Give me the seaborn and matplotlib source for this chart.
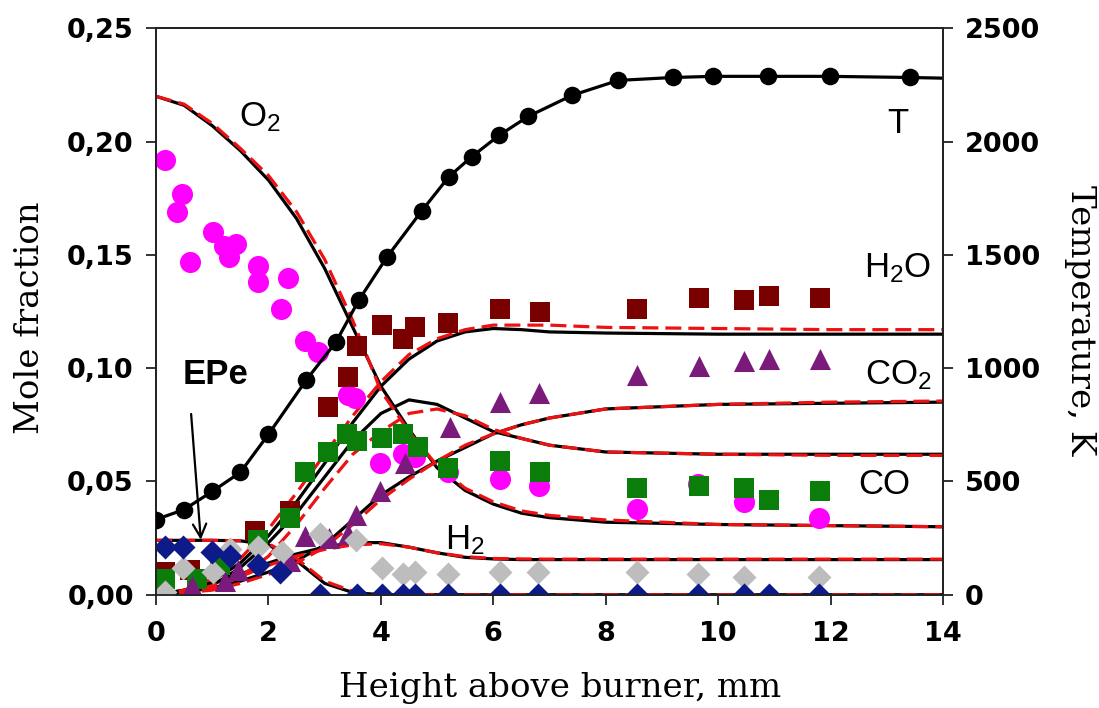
import numpy as np
import pandas as pd
import matplotlib
matplotlib.use("Agg")
import matplotlib.pyplot as plt
import seaborn as sns

# ---------------- data ----------------
# Temperature (right axis), measured points
T_x = [0.0, 0.5, 1.0, 1.5, 2.0, 2.67, 3.2, 3.61, 4.11, 4.73, 5.21, 5.62, 6.10, 6.62,
       7.40, 8.22, 9.20, 9.91, 10.89, 11.99, 13.42]
T_val = [332, 376, 456, 540, 708, 947, 1115, 1301, 1491, 1695, 1845, 1934, 2027, 2111,
         2204, 2270, 2283, 2288, 2288, 2288, 2283]
# Temperature profile line
T_line_x = T_x + [14.0]
T_line_val = T_val + [2280]

# Experimental mole fractions
O2_x = [0.16, 0.37, 0.46, 0.60, 1.01, 1.21, 1.30, 1.42, 1.81, 1.81, 2.22, 2.35, 2.65, 2.88,
        3.42, 3.54, 3.99, 4.40, 4.60, 5.20, 6.12, 6.81, 8.56, 9.64, 10.46, 11.80]
O2_val = [0.192, 0.169, 0.177, 0.147, 0.160, 0.154, 0.149, 0.155, 0.145, 0.138, 0.126, 0.140,
          0.112, 0.107, 0.088, 0.087, 0.058, 0.062, 0.061, 0.054, 0.051, 0.048, 0.038, 0.049,
          0.041, 0.034]

H2O_x = [0.16, 0.60, 1.76, 2.38, 3.06, 3.42, 3.58, 4.02, 4.39, 4.61, 5.20, 6.12, 6.83, 8.56,
         9.66, 10.46, 10.91, 11.81]
H2O_val = [0.010, 0.011, 0.028, 0.037, 0.083, 0.096, 0.110, 0.119, 0.113, 0.118, 0.120, 0.126,
           0.125, 0.126, 0.131, 0.130, 0.132, 0.131]

CO_x = [0.16, 0.73, 1.14, 1.82, 2.38, 2.65, 3.06, 3.40, 3.58, 4.02, 4.40, 4.66, 5.20, 6.12,
        6.83, 8.56, 9.66, 10.46, 10.91, 11.81]
CO_val = [0.007, 0.007, 0.013, 0.024, 0.034, 0.054, 0.063, 0.071, 0.068, 0.069, 0.071, 0.065,
          0.056, 0.059, 0.054, 0.047, 0.048, 0.047, 0.042, 0.046]

CO2_x = [0.64, 1.23, 1.46, 2.38, 2.65, 3.08, 3.42, 3.56, 3.99, 4.43, 5.23, 6.12, 6.81, 8.56,
         9.66, 10.46, 10.91, 11.81]
CO2_val = [0.004, 0.006, 0.011, 0.015, 0.026, 0.025, 0.027, 0.035, 0.046, 0.058, 0.074, 0.085,
           0.089, 0.097, 0.101, 0.103, 0.104, 0.104]

H2_x = [0.16, 0.48, 1.01, 1.32, 1.82, 2.24, 2.92, 3.56, 4.02, 4.40, 4.61, 5.20, 6.12, 6.80,
        8.56, 9.64, 10.46, 11.80]
H2_val = [0.001, 0.012, 0.010, 0.020, 0.021, 0.019, 0.027, 0.024, 0.012, 0.009, 0.010, 0.009,
          0.010, 0.010, 0.010, 0.009, 0.008, 0.008]

EPe_x = [0.16, 0.48, 1.00, 1.32, 1.82, 2.20, 2.92, 3.58, 4.02, 4.40, 4.61, 5.20, 6.12, 6.80,
         8.56, 9.64, 10.46, 10.91, 11.80]
EPe_val = [0.021, 0.021, 0.019, 0.017, 0.013, 0.010, 0.0, 0.0, 0.0, 0.0, 0.0, 0.0, 0.0, 0.0,
           0.0, 0.0, 0.0, 0.0, 0.0]

# Model profiles (black solid = model 1, red dashed = model 2)
model_x = [0, 0.5, 1.0, 1.5, 2.0, 2.5, 3.0, 3.5, 4.0, 4.5, 5.0, 5.5, 6.0, 6.5, 7.0, 8.0, 10.0, 12.0, 14.0]
O2_black = [0.220, 0.216, 0.207, 0.196, 0.183, 0.166, 0.144, 0.118, 0.092, 0.073, 0.056, 0.046,
            0.040, 0.036, 0.034, 0.032, 0.031, 0.0305, 0.030]
O2_red = [0.220, 0.2165, 0.208, 0.197, 0.185, 0.169, 0.148, 0.121, 0.090, 0.072, 0.057, 0.047,
          0.041, 0.037, 0.035, 0.033, 0.031, 0.0305, 0.030]
H2O_black = [0.000, 0.002, 0.006, 0.014, 0.026, 0.041, 0.058, 0.076, 0.092, 0.104, 0.112, 0.116,
             0.1175, 0.117, 0.116, 0.1155, 0.115, 0.115, 0.115]
H2O_red = [0.000, 0.002, 0.007, 0.016, 0.029, 0.045, 0.062, 0.079, 0.094, 0.106, 0.113, 0.117,
           0.119, 0.119, 0.119, 0.118, 0.1175, 0.117, 0.117]
CO_black = [0.000, 0.001, 0.004, 0.012, 0.023, 0.036, 0.052, 0.068, 0.080, 0.086, 0.084, 0.078,
            0.072, 0.069, 0.066, 0.063, 0.062, 0.062, 0.062]
CO_red = [0.000, 0.001, 0.003, 0.008, 0.017, 0.031, 0.047, 0.062, 0.072, 0.080, 0.082, 0.079,
          0.073, 0.069, 0.066, 0.063, 0.062, 0.0615, 0.0615]
CO2_black = [0.000, 0.001, 0.003, 0.006, 0.010, 0.015, 0.022, 0.033, 0.044, 0.052, 0.059, 0.065,
             0.071, 0.075, 0.078, 0.082, 0.084, 0.0845, 0.085]
CO2_red = [0.000, 0.001, 0.002, 0.005, 0.009, 0.014, 0.021, 0.031, 0.042, 0.051, 0.059, 0.066,
           0.071, 0.075, 0.078, 0.082, 0.084, 0.085, 0.0855]
H2_black = [0.000, 0.002, 0.005, 0.009, 0.014, 0.018, 0.021, 0.023, 0.023, 0.021, 0.0185, 0.0165,
            0.0158, 0.0155, 0.0155, 0.0155, 0.0155, 0.0155, 0.0155]
H2_red = [0.000, 0.001, 0.004, 0.008, 0.013, 0.017, 0.020, 0.022, 0.0225, 0.021, 0.0185, 0.0168,
          0.016, 0.0158, 0.0157, 0.0157, 0.0157, 0.0157, 0.0157]
EPe_black = [0.024, 0.024, 0.024, 0.0238, 0.022, 0.015, 0.005, 0.001, 0.0, 0.0, 0.0, 0.0, 0.0,
             0.0, 0.0, 0.0, 0.0, 0.0, 0.0]
EPe_red = [0.024, 0.024, 0.024, 0.0238, 0.0225, 0.016, 0.006, 0.0015, 0.0, 0.0, 0.0, 0.0, 0.0,
           0.0, 0.0, 0.0, 0.0, 0.0, 0.0]

left_ticks = [0.0, 0.05, 0.10, 0.15, 0.20, 0.25]
left_ticklabels = ["0,00", "0,05", "0,10", "0,15", "0,20", "0,25"]
right_ticks = [0, 500, 1000, 1500, 2000, 2500]
x_ticks = [0, 2, 4, 6, 8, 10, 12, 14]

# ---------------- style ----------------
sns.set_style("ticks")
plt.rcParams['font.family'] = ['Liberation Sans', 'DejaVu Sans']
plt.rcParams['mathtext.default'] = 'regular'
plt.rcParams['text.color'] = 'black'
plt.rcParams['axes.labelcolor'] = 'black'

fig = plt.figure(figsize=(10.99, 7.08), dpi=100)
ax = fig.add_axes([0.142, 0.160, 0.716, 0.800])

# model lines
model_pairs = [(O2_black, O2_red), (H2O_black, H2O_red), (CO_black, CO_red),
               (CO2_black, CO2_red), (H2_black, H2_red), (EPe_black, EPe_red)]
for blk, red in model_pairs:
    sns.lineplot(x=model_x, y=blk, ax=ax, color='black', lw=2.3, estimator=None, zorder=2)
    sns.lineplot(x=model_x, y=red, ax=ax, color='#ee1111', lw=2.3, estimator=None, zorder=2.5,
                 linestyle=(0, (5, 2.2)))

# experimental markers
exp_sets = [
    (O2_x, O2_val, 'o', '#ff00ff', 230),
    (H2O_x, H2O_val, 's', '#7a0000', 210),
    (CO_x, CO_val, 's', '#0a7d0a', 210),
    (CO2_x, CO2_val, '^', '#7a1a7a', 230),
    (H2_x, H2_val, 'D', '#bdbdbd', 150),
    (EPe_x, EPe_val, 'D', '#0c1a8a', 150),
]
for xs, ys, mk, col, sz in exp_sets:
    sns.scatterplot(x=xs, y=ys, ax=ax, marker=mk, color=col, s=sz, linewidth=0, zorder=3)

ax.set_xlim(0, 14)
ax.set_ylim(0, 0.25)
ax.set_xticks(x_ticks)
ax.set_xticklabels([str(t) for t in x_ticks])
ax.set_yticks(left_ticks)
ax.set_yticklabels(left_ticklabels)

# temperature on right axis
ax2 = ax.twinx()
sns.lineplot(x=T_line_x, y=T_line_val, ax=ax2, color='black', lw=2.3, estimator=None, zorder=2)
sns.scatterplot(x=T_x, y=T_val, ax=ax2, marker='o', color='black', s=160, linewidth=0, zorder=3)
ax2.set_ylim(0, 2500)
ax2.set_yticks(right_ticks)
ax2.set_yticklabels([str(t) for t in right_ticks])

for a in (ax, ax2):
    for sp in a.spines.values():
        sp.set_visible(True)
        sp.set_color('#222222')
        sp.set_linewidth(1.3)
    a.tick_params(direction='out', length=7, width=1.3, color='#222222', labelcolor='black')
    for lab in a.get_xticklabels() + a.get_yticklabels():
        lab.set_fontweight('bold')
        lab.set_fontsize(19.5)
        lab.set_family('DejaVu Sans')
ax.tick_params(axis='y', pad=9)
ax.tick_params(axis='x', pad=12)
ax2.tick_params(axis='y', pad=9)

ax.set_xlabel("Height above burner, mm", family='DejaVu Serif', fontsize=24.5)
ax.set_ylabel("Mole fraction", family='DejaVu Serif', fontsize=24.5)
ax2.set_ylabel("Temperature, K", family='DejaVu Serif', fontsize=24.5, rotation=270)
ax.xaxis.set_label_coords(0.513, -0.164)
ax.yaxis.set_label_coords(-0.160, 0.489)
ax2.yaxis.set_label_coords(1.174, 0.485)
ax.xaxis.label.set_va('center')
ax.yaxis.label.set_va('center')
ax2.yaxis.label.set_va('center')

# species labels
lab_kw = dict(fontsize=25, color='black', ha='center', va='center')
ax.text(1.85, 0.211, r'O$_2$', **lab_kw)
ax.text(13.2, 0.144, r'H$_2$O', **lab_kw)
ax.text(13.2, 0.097, r'CO$_2$', **lab_kw)
ax.text(12.95, 0.0485, 'CO', **lab_kw)
ax.text(5.5, 0.024, r'H$_2$', **lab_kw)
ax2.text(13.2, 2080, 'T', **lab_kw)
ax.text(1.05, 0.097, 'EPe', fontsize=25, fontweight='bold', ha='center', va='center')
ax.annotate('', xy=(0.80, 0.023), xytext=(0.62, 0.081),
            arrowprops=dict(arrowstyle='->', color='black', lw=1.6, mutation_scale=24))

fig.savefig('out.png', dpi=100)
